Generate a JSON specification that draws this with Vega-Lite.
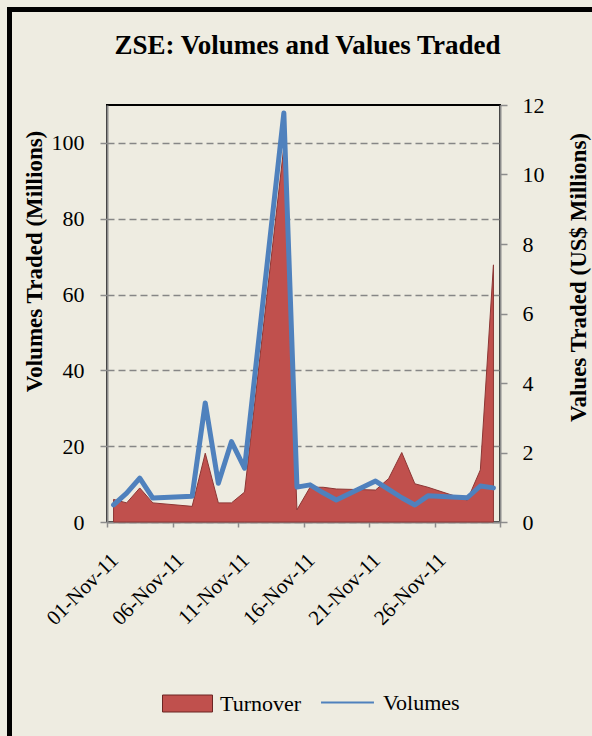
{
  "$schema": "https://vega.github.io/schema/vega-lite/v6.json",
  "width": 393,
  "height": 417,
  "autosize": {"type": "none"},
  "padding": {"left": 107, "top": 105, "right": 92, "bottom": 214},
  "background": "#EEECE1",
  "config": {
    "font": "Liberation Serif",
    "view": {"stroke": "#000000", "strokeWidth": 2},
    "axis": {
      "domainColor": "#8C8C8C",
      "domainWidth": 2,
      "tickColor": "#8C8C8C",
      "tickWidth": 1.5,
      "labelFont": "Liberation Serif",
      "labelFontSize": 22,
      "labelColor": "#000000",
      "titleFont": "Liberation Serif",
      "titleFontSize": 23,
      "titleFontWeight": "bold",
      "titleColor": "#000000"
    }
  },
  "title": {
    "text": "ZSE: Volumes and Values Traded",
    "font": "Liberation Serif",
    "fontSize": 27,
    "fontWeight": "bold",
    "color": "#000000",
    "anchor": "middle",
    "frame": "group",
    "offset": -50,
    "dx": 4
  },
  "data": {
    "values": [
      {"date": "2011-11-01T12:00:00", "volumes": 4.5, "turnover": 0.65},
      {"date": "2011-11-02T12:00:00", "volumes": 7.6, "turnover": 0.55},
      {"date": "2011-11-03T12:00:00", "volumes": 11.6, "turnover": 0.98},
      {"date": "2011-11-04T12:00:00", "volumes": 6.3, "turnover": 0.55},
      {"date": "2011-11-07T12:00:00", "volumes": 6.8, "turnover": 0.45},
      {"date": "2011-11-08T12:00:00", "volumes": 31.4, "turnover": 1.98},
      {"date": "2011-11-09T12:00:00", "volumes": 10.2, "turnover": 0.55},
      {"date": "2011-11-10T12:00:00", "volumes": 21.2, "turnover": 0.55},
      {"date": "2011-11-11T12:00:00", "volumes": 14.2, "turnover": 0.86},
      {"date": "2011-11-14T12:00:00", "volumes": 107.9, "turnover": 10.8},
      {"date": "2011-11-15T12:00:00", "volumes": 9.2, "turnover": 0.35},
      {"date": "2011-11-16T12:00:00", "volumes": 9.8, "turnover": 1.0},
      {"date": "2011-11-17T12:00:00", "volumes": 7.7, "turnover": 1.0},
      {"date": "2011-11-18T12:00:00", "volumes": 5.8, "turnover": 0.95},
      {"date": "2011-11-21T12:00:00", "volumes": 10.8, "turnover": 0.92},
      {"date": "2011-11-22T12:00:00", "volumes": 8.6, "turnover": 1.25},
      {"date": "2011-11-23T12:00:00", "volumes": 6.4, "turnover": 2.0},
      {"date": "2011-11-24T12:00:00", "volumes": 4.5, "turnover": 1.1},
      {"date": "2011-11-25T12:00:00", "volumes": 6.9, "turnover": 1.0},
      {"date": "2011-11-28T12:00:00", "volumes": 6.4, "turnover": 0.63},
      {"date": "2011-11-29T12:00:00", "volumes": 9.5, "turnover": 1.5},
      {"date": "2011-11-30T12:00:00", "volumes": 9.0, "turnover": 7.4}
    ]
  },
  "layer": [
    {
      "mark": {
        "type": "area",
        "interpolate": "linear",
        "fill": {
          "gradient": "linear",
          "x1": 0, "y1": 0, "x2": 0, "y2": 1,
          "stops": [
            {"offset": 0, "color": "#B84846"},
            {"offset": 0.88, "color": "#CF5B58"},
            {"offset": 0.95, "color": "#D6706C"},
            {"offset": 1, "color": "#7E3130"}
          ]
        },
        "stroke": "#8C3634",
        "strokeWidth": 1
      },
      "encoding": {
        "x": {
          "field": "date",
          "type": "temporal",
          "scale": {
            "domain": [
              {"year": 2011, "month": 11, "date": 1},
              {"year": 2011, "month": 12, "date": 1}
            ]
          },
          "axis": {
            "title": null,
            "values": [
              {"year": 2011, "month": 11, "date": 1},
              {"year": 2011, "month": 11, "date": 6},
              {"year": 2011, "month": 11, "date": 11},
              {"year": 2011, "month": 11, "date": 16},
              {"year": 2011, "month": 11, "date": 21},
              {"year": 2011, "month": 11, "date": 26},
              {"year": 2011, "month": 12, "date": 1}
            ],
            "labelExpr": "month(datum.value) == 11 ? '' : timeFormat(datum.value, '%d-%b-%y')",
            "labelAngle": -45,
            "labelAlign": "right",
            "labelBaseline": "top",
            "labelFontSize": 21,
            "labelOverlap": false,
            "tickSize": 5,
            "labelPadding": 22,
            "grid": false
          }
        },
        "y": {
          "field": "turnover",
          "type": "quantitative",
          "scale": {"domain": [0, 12], "nice": false},
          "axis": {
            "orient": "right",
            "title": "Values Traded (US$ Millions)",
            "titleAngle": 270,
            "titleX": 90,
            "titleY": 172,
            "values": [0, 2, 4, 6, 8, 10, 12],
            "tickSize": 7,
            "labelPadding": 15,
            "grid": false
          }
        },
        "fill": {
          "datum": "Turnover",
          "type": "nominal",
          "scale": {"range": ["#C0504D"]},
          "legend": {
            "title": null,
            "orient": "none",
            "legendX": 55,
            "legendY": 573,
            "direction": "horizontal",
            "symbolType": "M-1,-0.34H1V0.34H-1Z",
            "symbolSize": 2500,
            "symbolStrokeColor": "#6B2523",
            "symbolStrokeWidth": 1,
            "symbolOpacity": 1,
            "labelFont": "Liberation Serif",
            "labelFontSize": 22,
            "labelColor": "#000000",
            "labelOffset": 7
          }
        }
      }
    },
    {
      "mark": {"type": "line", "strokeWidth": 5, "interpolate": "linear", "strokeJoin": "round", "strokeCap": "round"},
      "encoding": {
        "x": {"field": "date", "type": "temporal"},
        "y": {
          "field": "volumes",
          "type": "quantitative",
          "scale": {"domain": [0, 110], "nice": false},
          "axis": {
            "orient": "left",
            "title": "Volumes Traded (Millions)",
            "titleX": -61,
            "titleY": 156,
            "values": [0, 20, 40, 60, 80, 100],
            "tickSize": 7,
            "labelPadding": 16,
            "grid": true,
            "gridColor": "#868686",
            "gridWidth": 1.5,
            "gridDash": [7, 4]
          }
        },
        "stroke": {
          "datum": "Volumes",
          "type": "nominal",
          "scale": {"range": ["#4F81BD"]},
          "legend": {
            "title": null,
            "orient": "none",
            "legendX": 213,
            "legendY": 570,
            "direction": "horizontal",
            "symbolType": "stroke",
            "symbolSize": 2800,
            "symbolStrokeWidth": 2,
            "labelFont": "Liberation Serif",
            "labelFontSize": 22,
            "labelColor": "#000000",
            "labelOffset": 8
          }
        }
      }
    },
    {
      "mark": {"type": "point", "opacity": 0},
      "encoding": {
        "x": {"field": "date", "type": "temporal"},
        "y": {"field": "volumes", "type": "quantitative", "scale": {"domain": [0, 110], "nice": false}, "axis": null},
        "color": {
          "field": "volumes",
          "type": "quantitative",
          "scale": {"range": ["transparent", "transparent"]},
          "legend": {
            "title": null,
            "labels": false,
            "orient": "none",
            "legendX": -97.5,
            "legendY": -95.5,
            "direction": "horizontal",
            "gradientLength": 1000,
            "gradientThickness": 900,
            "gradientStrokeColor": "#000000",
            "gradientStrokeWidth": 5
          }
        }
      }
    }
  ],
  "resolve": {"scale": {"y": "independent", "fill": "independent", "stroke": "independent", "color": "independent"}}
}
